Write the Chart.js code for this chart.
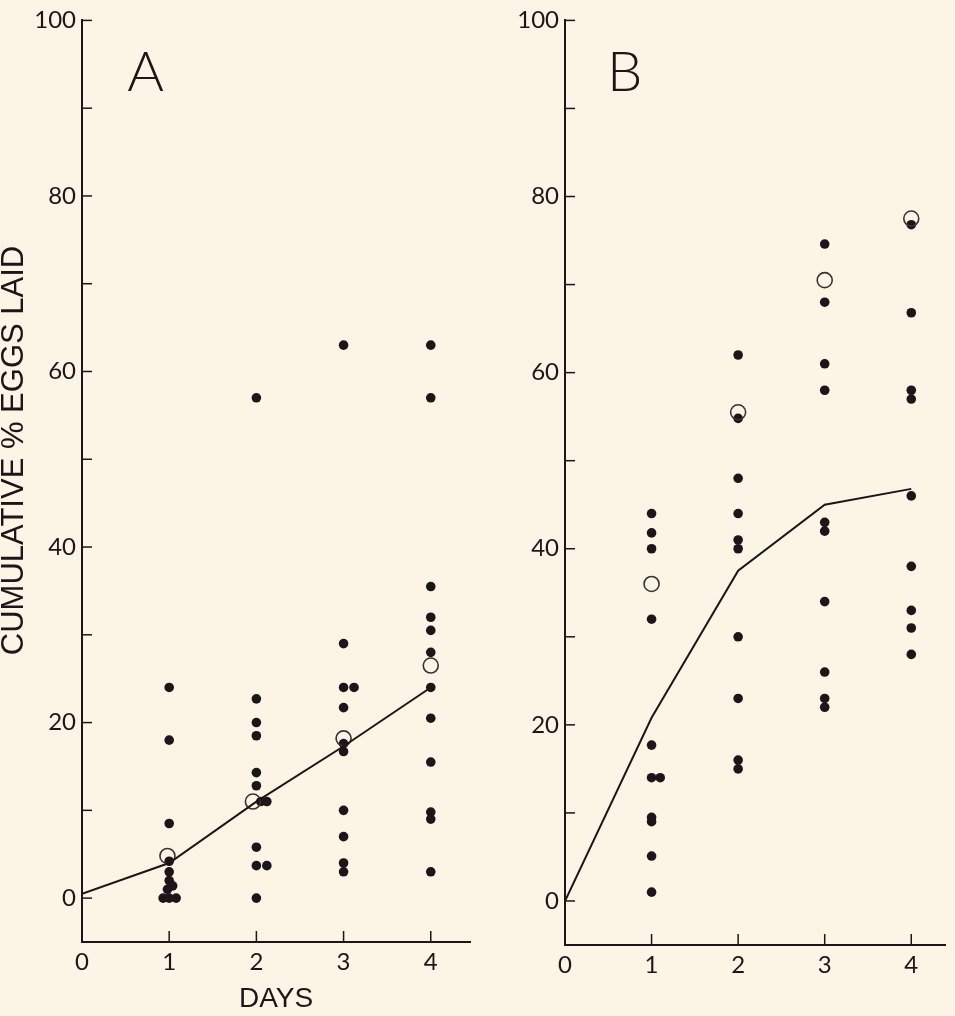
<!DOCTYPE html>
<html>
<head>
<meta charset="utf-8">
<script src="https://cdn.jsdelivr.net/npm/chart.js@4"></script>
<style>
  body { margin: 0; background: #fcf4e4; }
  .panel { position: absolute; top: 0; height: 1016px; }
  #wrapA { left: 0; width: 480px; }
  #wrapB { left: 480px; width: 475px; }
</style>
</head>
<body>
<div class="panel" id="wrapA"><canvas id="chartA"></canvas></div>
<div class="panel" id="wrapB"><canvas id="chartB"></canvas></div>
<script>
const dayTicks = [0, 1, 2, 3, 4];
const pctLabels = [0, 20, 40, 60, 80, 100];
const pctMarks = [0, 10, 20, 30, 40, 50, 60, 70, 80, 90, 100];

// panel A - individual females (filled), open circles, mean line
const aDotDay = [1, 1, 1, 1, 1, 1, 1.04, 0.98, 0.93, 1, 1.08,
  2, 2, 2, 2, 2, 2, 2.05, 2.12, 2, 2, 2.12, 2,
  3, 3, 3, 3.12, 3, 3, 3, 3, 3, 3, 3,
  4, 4, 4, 4, 4, 4, 4, 4, 4, 4, 4, 4];
const aDotPct = [24, 18, 8.5, 4.2, 3, 2, 1.4, 1, 0, 0, 0,
  57, 22.7, 20, 18.5, 14.3, 12.8, 11, 11, 5.8, 3.7, 3.7, 0,
  63, 29, 24, 24, 21.7, 17.6, 16.7, 10, 7, 4, 3,
  63, 57, 35.5, 32, 30.5, 28, 24, 20.5, 15.5, 9.8, 9, 3];
const aOpenDay = [0.98, 1.96, 3, 4];
const aOpenPct = [4.8, 11, 18.2, 26.5];
const aMeanDay = [0, 1, 2, 3, 4];
const aMeanPct = [0.5, 4, 11, 17.3, 24];

// panel B
const bDotDay = [1, 1, 1, 1, 1, 1, 1.1, 1, 1, 1, 1,
  2, 2, 2, 2, 2, 2, 2, 2, 2, 2,
  3, 3, 3, 3, 3, 3, 3, 3, 3, 3,
  4, 4, 4, 4, 4, 4, 4, 4, 4];
const bDotPct = [44, 41.8, 40, 32, 17.7, 14, 14, 9.5, 9, 5.1, 1,
  62, 54.8, 48, 44, 41, 40, 30, 23, 16, 15,
  74.6, 68, 61, 58, 43, 42, 34, 26, 23, 22,
  76.8, 66.8, 58, 57, 46, 38, 33, 31, 28];
const bOpenDay = [1, 2, 3, 4];
const bOpenPct = [36, 55.5, 70.5, 77.5];
const bMeanDay = [0, 1, 2, 3, 4];
const bMeanPct = [0, 20.8, 37.5, 45, 46.8];

const ink = '#1d1519';
const tickFont = { family: 'Lato, "DejaVu Sans", sans-serif', size: 24, weight: '400' };
const titleFont = { family: '"Liberation Sans", Arial, sans-serif', size: 28 };

function pts(xs, ys) {
  return xs.map((x, i) => ({ x: x, y: ys[i] }));
}

const insideTicks = {
  id: 'insideTicks',
  afterDraw(chart, args, opts) {
    const { ctx } = chart;
    const xs = chart.scales.x, ys = chart.scales.y;
    ctx.save();
    ctx.strokeStyle = ink;
    ctx.lineWidth = 1.5;
    pctMarks.forEach(v => {
      const py = ys.getPixelForValue(v);
      ctx.beginPath();
      ctx.moveTo(xs.left, py);
      ctx.lineTo(xs.left + 10, py);
      ctx.stroke();
    });
    dayTicks.slice(1).forEach(v => {
      const px = xs.getPixelForValue(v);
      ctx.beginPath();
      ctx.moveTo(px, ys.bottom);
      ctx.lineTo(px, ys.bottom - 11);
      ctx.stroke();
    });
    ctx.fillStyle = ink;
    ctx.font = '300 56px Lato, "DejaVu Sans", sans-serif';
    ctx.textAlign = 'center';
    ctx.textBaseline = 'alphabetic';
    ctx.fillText(opts.letter, xs.getPixelForValue(opts.lx), ys.getPixelForValue(opts.ly));
    if (opts.yTitle) {
      // axis title sits a little above the middle of the axis in the original
      ctx.translate(14, ys.getPixelForValue(51));
      ctx.rotate(-Math.PI / 2);
      ctx.font = '31px "Liberation Sans", Arial, sans-serif';
      ctx.textBaseline = 'middle';
      ctx.fillText(opts.yTitle, 0, 0);
    }
    ctx.restore();
  }
};

function makePanel(id, p) {
  new Chart(document.getElementById(id), {
    type: 'scatter',
    data: {
      datasets: [
        {
          type: 'line',
          data: pts(p.meanDay, p.meanPct),
          borderColor: ink,
          borderWidth: 2,
          pointRadius: 0,
          fill: false,
          tension: 0
        },
        {
          data: pts(p.openDay, p.openPct),
          pointRadius: 7.5,
          pointBackgroundColor: 'rgba(0,0,0,0)',
          pointBorderColor: '#3b3136',
          pointBorderWidth: 1.6
        },
        {
          data: pts(p.dotDay, p.dotPct),
          pointRadius: 4.8,
          pointBackgroundColor: ink,
          pointBorderColor: ink,
          pointBorderWidth: 0
        }
      ]
    },
    options: {
      responsive: true,
      maintainAspectRatio: false,
      animation: false,
      events: [],
      layout: { padding: { top: 18, right: p.padRight, bottom: 0, left: 0 } },
      plugins: {
        legend: { display: false },
        tooltip: { enabled: false },
        insideTicks: { letter: p.letter, lx: p.lx, ly: 92, yTitle: p.yTitle }
      },
      scales: {
        x: {
          type: 'linear',
          min: 0,
          max: p.xMax,
          afterBuildTicks: s => { s.ticks = dayTicks.map(v => ({ value: v })); },
          afterFit: s => { s.height = p.xHeight; },
          grid: { display: true, drawOnChartArea: false, drawTicks: false },
          border: { display: true, color: ink, width: 2 },
          ticks: { color: ink, font: tickFont, padding: 6, maxRotation: 0 },
          title: {
            display: p.xTitle !== '',
            text: p.xTitle,
            color: ink,
            font: titleFont,
            padding: { top: 0, bottom: 0 }
          }
        },
        y: {
          type: 'linear',
          min: -5,
          max: 100,
          afterBuildTicks: s => { s.ticks = pctLabels.map(v => ({ value: v })); },
          afterFit: s => { s.width = p.yWidth; },
          grid: { display: true, drawOnChartArea: false, drawTicks: false },
          border: { display: true, color: ink, width: 2 },
          ticks: { color: ink, font: tickFont, padding: 6 }
        }
      }
    },
    plugins: [insideTicks]
  });
}

makePanel('chartA', {
  dotDay: aDotDay, dotPct: aDotPct, openDay: aOpenDay, openPct: aOpenPct,
  meanDay: aMeanDay, meanPct: aMeanPct,
  letter: 'A', lx: 0.73, xMax: 4.45, padRight: 10, xHeight: 74, yWidth: 82,
  xTitle: 'DAYS', yTitle: 'CUMULATIVE % EGGS LAID'
});

makePanel('chartB', {
  dotDay: bDotDay, dotPct: bDotPct, openDay: bOpenDay, openPct: bOpenPct,
  meanDay: bMeanDay, meanPct: bMeanPct,
  letter: 'B', lx: 0.69, xMax: 4.4, padRight: 8, xHeight: 71, yWidth: 85,
  xTitle: '', yTitle: ''
});
</script>
</body>
</html>
